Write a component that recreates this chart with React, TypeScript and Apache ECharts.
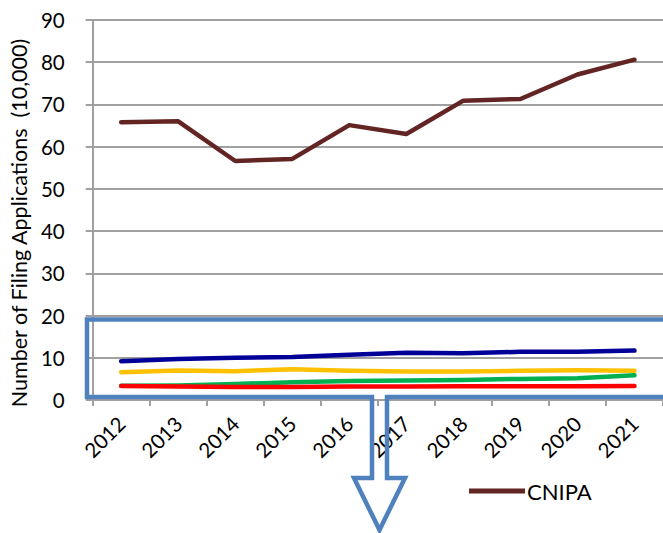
import React, { useEffect, useRef } from "react";
import * as echarts from "echarts";

const years = ["2012", "2013", "2014", "2015", "2016", "2017", "2018", "2019", "2020", "2021"];
const cnipa = [65.8, 66.0, 56.6, 57.1, 65.1, 63.0, 70.9, 71.3, 77.1, 80.6];
const blueSeries = [9.2, 9.7, 10.0, 10.2, 10.7, 11.2, 11.1, 11.4, 11.4, 11.7];
const yellowSeries = [6.6, 7.0, 6.8, 7.3, 6.9, 6.75, 6.75, 6.9, 7.05, 6.95];
const greenSeries = [3.35, 3.45, 3.8, 4.2, 4.5, 4.6, 4.75, 5.0, 5.15, 5.85];
const redSeries = [3.3, 3.2, 3.1, 3.1, 3.2, 3.2, 3.25, 3.25, 3.25, 3.3];
const yTicks = { min: 0, max: 90, interval: 10 };
const yName = "Number of Filing Applications  (10,000)";

const FONT = "Lato";

export default function App() {
  const ref = useRef<HTMLDivElement>(null);
  useEffect(() => {
    if (!ref.current) return;
    const chart = echarts.init(ref.current, undefined, { renderer: "svg" });
    const lineStyle = (color: string) => ({ color, width: 4.5, cap: "round", join: "round" });
    const mk = (name: string, data: number[], color: string, z: number) => ({
      name,
      type: "line",
      data,
      symbol: "none",
      z,
      lineStyle: lineStyle(color),
      itemStyle: { color },
    });
    chart.setOption({
      animation: false,
      textStyle: { fontFamily: FONT },
      grid: { left: 88, top: 20, width: 577, height: 380 },
      legend: {
        data: ["CNIPA"],
        left: 464,
        top: 475,
        icon: "rect",
        itemWidth: 56,
        itemHeight: 5,
        itemGap: 0,
        textStyle: { fontFamily: FONT, fontSize: 22, color: "#000", padding: [0, 0, 0, -3] },
      },
      xAxis: {
        type: "category",
        data: years,
        boundaryGap: true,
        axisLine: { lineStyle: { color: "#a0a0a0", width: 2 } },
        axisTick: { show: true, length: 6, lineStyle: { color: "#a0a0a0", width: 2 } },
        axisLabel: { rotate: 45, fontSize: 20.5, color: "#000", fontFamily: FONT, margin: 20 },
        splitLine: { show: false },
      },
      yAxis: {
        type: "value",
        min: yTicks.min,
        max: yTicks.max,
        interval: yTicks.interval,
        name: yName,
        nameLocation: "middle",
        nameGap: 62,
        nameTextStyle: {
          fontSize: 21.5,
          color: "#000",
          fontFamily: FONT,
          padding: [0, 26, 0, 0],
        },
        axisLine: { show: true, lineStyle: { color: "#a0a0a0", width: 2 } },
        axisTick: { show: true, length: 7, lineStyle: { color: "#a0a0a0", width: 2 } },
        axisLabel: { fontSize: 20.5, color: "#000", fontFamily: FONT, margin: 28 },
        splitLine: { show: true, lineStyle: { color: "#a0a0a0", width: 2 } },
      },
      series: [
        mk("CNIPA", cnipa, "#632523", 5),
        mk("S2", blueSeries, "#000099", 4),
        mk("S3", yellowSeries, "#FFC000", 4),
        mk("S4", greenSeries, "#00B050", 4),
        mk("S5", redSeries, "#FF0000", 4),
      ],
      graphic: [
        {
          type: "polyline",
          z: 100,
          shape: {
            points: [
              [680, 319.5],
              [87, 319.5],
              [87, 397],
              [372, 397],
              [372, 478],
              [354, 478],
              [379.5, 530],
              [405, 478],
              [387, 478],
              [387, 397],
              [680, 397],
            ],
          },
          style: { stroke: "#4F81BD", lineWidth: 4.5, fill: null, lineJoin: "miter" },
        },
      ],
    });
    return () => chart.dispose();
  }, []);
  return (
    <div
      ref={ref}
      style={{ position: "fixed", left: 0, top: 0, width: 663, height: 533, background: "#fff" }}
    />
  );
}
